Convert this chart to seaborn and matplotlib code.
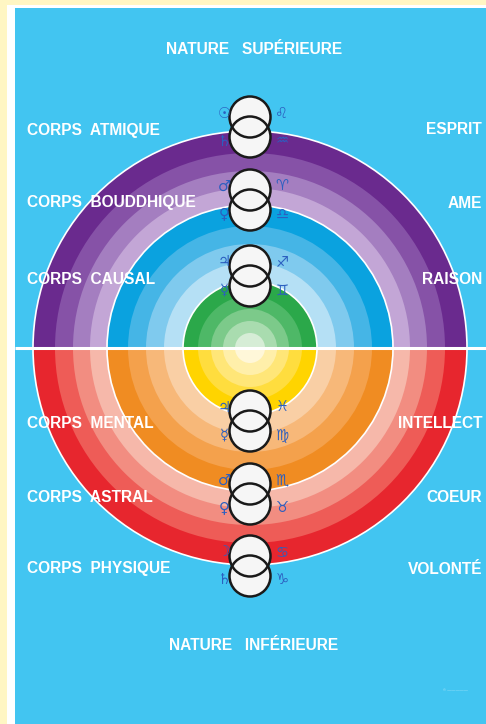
import numpy as np
import pandas as pd
import matplotlib
matplotlib.use("Agg")
import matplotlib.pyplot as plt
from matplotlib.patches import Wedge, Circle, Rectangle
import seaborn as sns

# ---------------- data ----------------
# band outer radii (px) for the three nested sections (outer, middle, inner)
outer_band_r = [217, 195, 177, 160]
middle_band_r = [143, 122, 104, 86]
inner_band_r = [67, 52, 39, 27, 15]

# upper half colours (outer -> inner in each section)
purple = ["#6A2A8E", "#8652A7", "#A47EC0", "#C3A6D6"]
blue = ["#0AA2DF", "#45B5E6", "#7FCAEE", "#B5E0F5"]
green = ["#2BA84A", "#4EB867", "#7CCA8A", "#A9DCAF", "#D6EDD6"]
# lower half colours
red = ["#E7262E", "#EE5C57", "#F28D81", "#F6B8AA"]
orange = ["#F08C22", "#F4A14C", "#F7B879", "#F9CFA5"]
yellow = ["#FFD400", "#FFDD3E", "#FFE678", "#FFEFAA", "#FFF7D9"]

left_labels = ["CORPS  ATMIQUE", "CORPS  BOUDDHIQUE", "CORPS  CAUSAL",
               "CORPS  MENTAL", "CORPS  ASTRAL", "CORPS  PHYSIQUE"]
right_labels = ["ESPRIT", "AME", "RAISON", "INTELLECT", "COEUR", "VOLONTÉ"]
top_title = "NATURE   SUPÉRIEURE"
bottom_title = "NATURE   INFÉRIEURE"

# astrological glyphs per level: left-top, right-top, left-bottom, right-bottom
glyph_lt = ["☉", "♂", "♃", "♃", "♂", "☽"]
glyph_rt = ["♌", "♈", "♐", "♓", "♏", "♋"]
glyph_lb = ["♄", "♀", "☿", "☿", "♀", "♄"]
glyph_rb = ["♒", "♎", "♊", "♍", "♉", "♑"]

# ---------------- layout ----------------
W, H = 486, 724
cx, cy = 250, 348
level_y = [127, 200, 276, 421, 494, 566]
circle_dy = 10

sns.set_theme(style="white")
plt.rcParams["font.family"] = ["Liberation Sans", "DejaVu Sans"]

fig = plt.figure(figsize=(W / 100, H / 100), dpi=100)
fig.patch.set_facecolor("#FFF6C3")
ax = fig.add_axes([0, 0, 1, 1])

# panel
ax.add_patch(Rectangle((7, 5), W, H, facecolor="white", edgecolor="none", zorder=0))
ax.add_patch(Rectangle((15, 8), W, H, facecolor="#42C5F1", edgecolor="none", zorder=0))

# rings
def draw_half(radii_sets, color_sets, t1, t2):
    for radii, cols in zip(radii_sets, color_sets):
        for r, c in zip(radii, cols):
            ax.add_patch(Wedge((cx, cy), r, t1, t2, facecolor=c, edgecolor="none", zorder=1))

draw_half([outer_band_r, middle_band_r, inner_band_r], [purple, blue, green], 180, 360)
draw_half([outer_band_r, middle_band_r, inner_band_r], [red, orange, yellow], 0, 180)

# white boundaries
for r in [outer_band_r[0], middle_band_r[0], inner_band_r[0]]:
    ax.add_patch(Circle((cx, cy), r, fill=False, edgecolor="white", lw=1.2, zorder=2))
ax.plot([15, W], [cy, cy], color="white", lw=2.2, zorder=2, solid_capstyle="butt")

# overlapping circle pairs
ys = []
for y in level_y:
    ys += [y - circle_dy, y + circle_dy]
df = pd.DataFrame({"x": [cx] * len(ys), "y": ys})
size = (41 * 0.72) ** 2
sns.scatterplot(data=df, x="x", y="y", ax=ax, s=size, color="#F6F6F6",
                edgecolor="none", linewidth=0, zorder=3, legend=False)
sns.scatterplot(data=df, x="x", y="y", ax=ax, s=size, facecolor="none",
                edgecolor="#1A1A1A", linewidth=1.8, zorder=4, legend=False)
ax.set_xlim(0, W)
ax.set_ylim(H, 0)
ax.axis("off")

# glyphs
gkw = dict(color="#2C5FC0", fontsize=10.5, ha="center", va="center",
           family=["DejaVu Sans"], fontweight="bold", zorder=5)
for y, lt, rt, lb, rb in zip(level_y, glyph_lt, glyph_rt, glyph_lb, glyph_rb):
    ax.text(cx - 26, y - 14, lt, **gkw)
    ax.text(cx + 32, y - 14, rt, **gkw)
    ax.text(cx - 26, y + 14, lb, **gkw)
    ax.text(cx + 32, y + 14, rb, **gkw)

# labels
tkw = dict(color="white", fontsize=11.2, fontweight="bold", va="center", zorder=6)
for y, lab in zip(level_y, left_labels):
    ax.text(27, y + 3, lab, ha="left", **tkw)
for y, lab in zip(level_y, right_labels):
    ax.text(482, y + 3, lab, ha="right", **tkw)
ax.text(254, 50, top_title, ha="center", **tkw)
ax.text(254, 645, bottom_title, ha="center", **tkw)
ax.text(455, 690, "© ―――――", color="white", alpha=0.7, fontsize=3,
        ha="center", va="center", zorder=6)

fig.savefig("out.png", dpi=100, facecolor=fig.get_facecolor())
